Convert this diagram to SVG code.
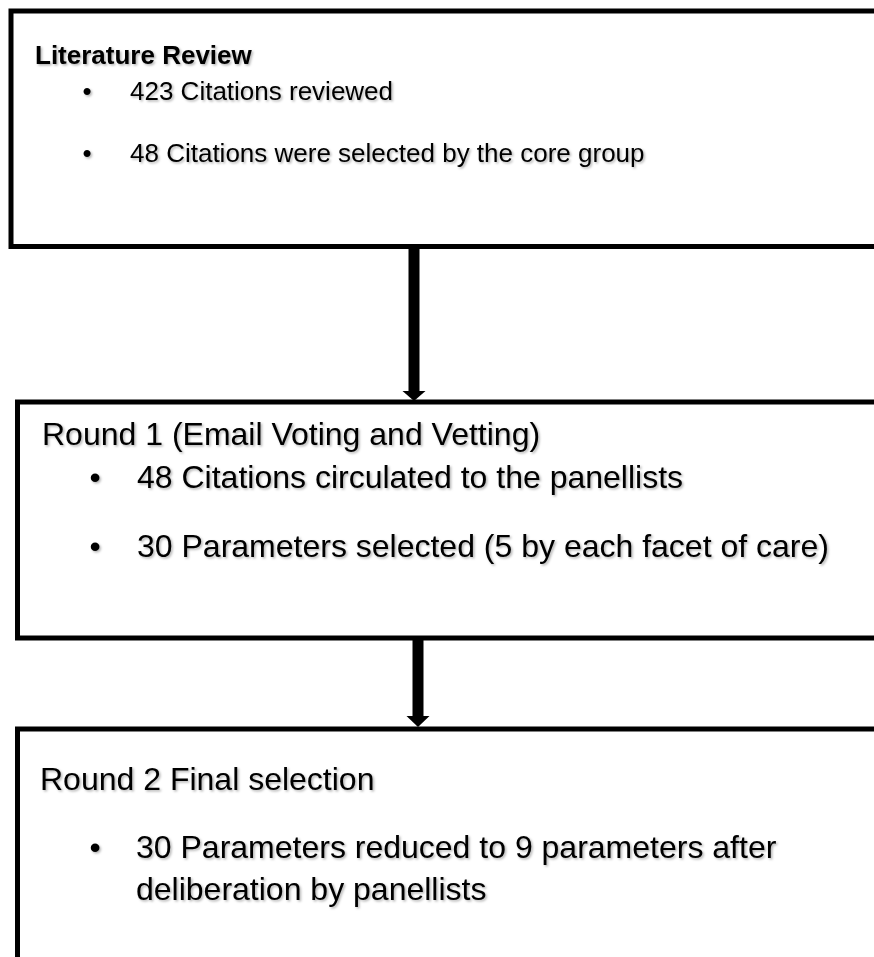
<svg xmlns="http://www.w3.org/2000/svg" width="874" height="957" viewBox="0 0 874 957">
<style>
.box{fill:#fff;stroke:#000;stroke-width:5}
.t{font-family:"Liberation Sans",Arial,sans-serif;fill:#000}
.s{font-size:26px}
.l{font-size:32px}
.b{font-weight:bold}
.conn{stroke:#000;stroke-width:11;fill:none}
.head{fill:#000}
</style>
<defs>
<filter id="sh" x="-5%" y="-20%" width="110%" height="140%">
<feDropShadow dx="1.5" dy="1.5" stdDeviation="0.8" flood-color="#000" flood-opacity="0.3"/>
</filter>
</defs>
<rect width="874" height="957" fill="#fff"/>
<g id="connectors">
<line class="conn" x1="414" y1="249" x2="414" y2="392"/>
<polygon class="head" points="402.5,391 425.5,391 414,401"/>
<line class="conn" x1="418" y1="640" x2="418" y2="717"/>
<polygon class="head" points="406.5,716 429.5,716 418,727"/>
</g>
<g id="literature-review">
<rect class="box" x="11" y="11" width="880" height="235.5"/>
<g filter="url(#sh)">
<text class="t s b" x="35" y="64">Literature Review</text>
<text class="t s" x="82.5" y="100">•</text>
<text class="t s" x="130" y="100">423 Citations reviewed</text>
<text class="t s" x="82.5" y="162">•</text>
<text class="t s" x="130" y="162">48 Citations were selected by the core group</text>
</g>
</g>
<g id="round-1">
<rect class="box" x="17.5" y="402" width="880" height="236"/>
<g filter="url(#sh)">
<text class="t l" x="42" y="445">Round 1 (Email Voting and Vetting)</text>
<text class="t l" x="89.5" y="488">•</text>
<text class="t l" x="137" y="488">48 Citations circulated to the panellists</text>
<text class="t l" x="89.5" y="557">•</text>
<text class="t l" x="137" y="557">30 Parameters selected (5 by each facet of care)</text>
</g>
</g>
<g id="round-2">
<rect class="box" x="17.5" y="729" width="880" height="260"/>
<g filter="url(#sh)">
<text class="t l" x="40" y="790">Round 2 Final selection</text>
<text class="t l" x="89.5" y="858">•</text>
<text class="t l" x="136" y="858">30 Parameters reduced to 9 parameters after</text>
<text class="t l" x="136" y="900">deliberation by panellists</text>
</g>
</g>
</svg>
